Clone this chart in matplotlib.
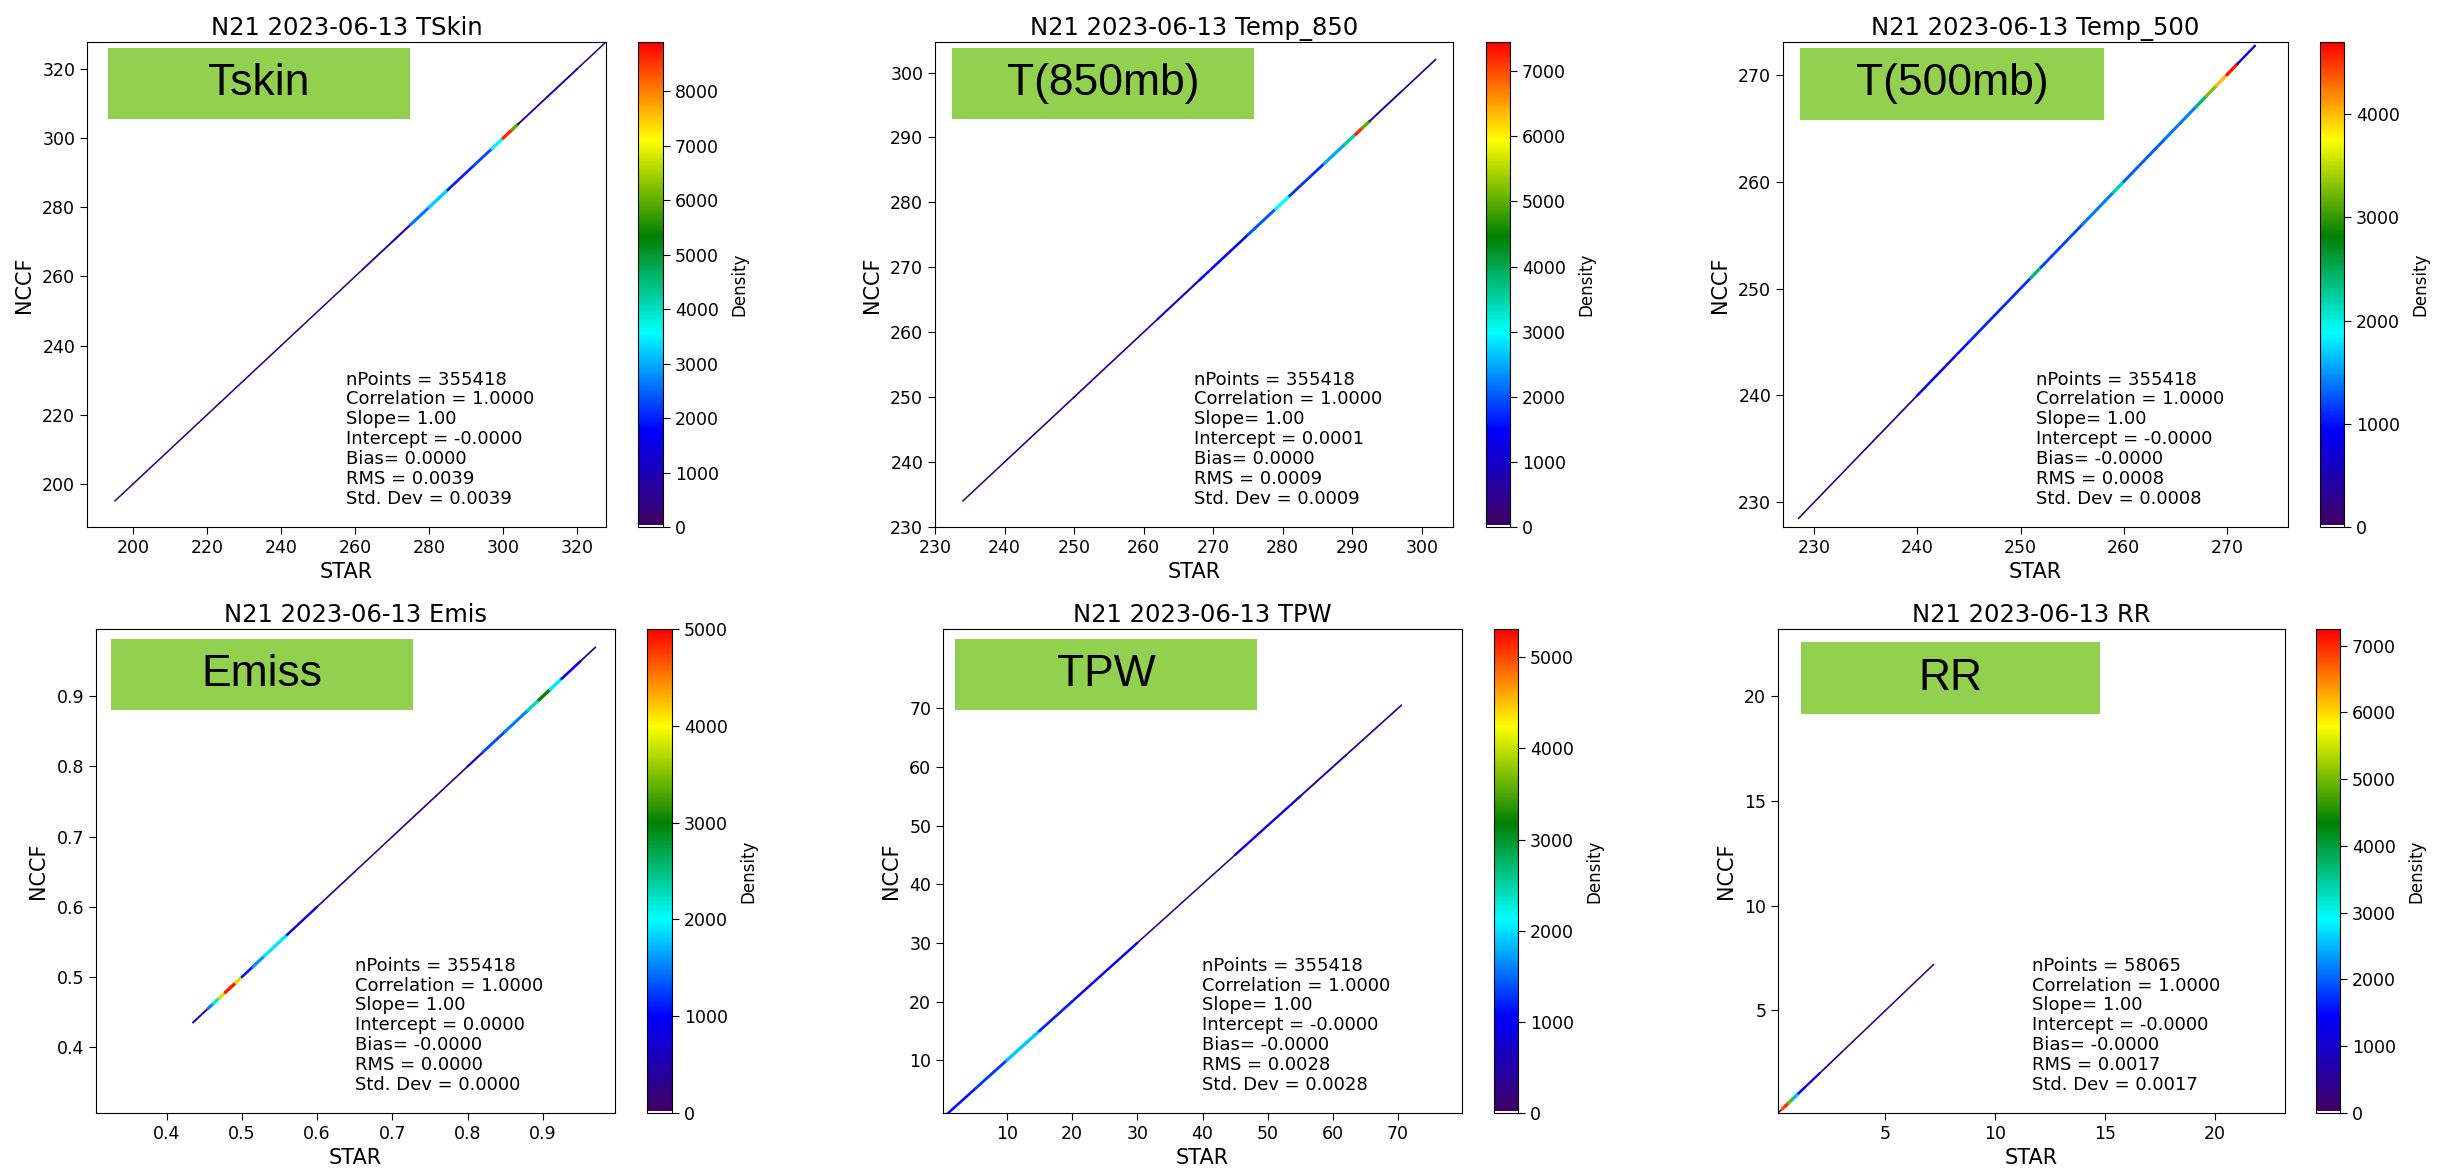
import numpy as np
import matplotlib
matplotlib.use("Agg")
import matplotlib.pyplot as plt
from matplotlib.colors import LinearSegmentedColormap, ListedColormap, Normalize
from matplotlib.collections import LineCollection
from matplotlib.patches import Rectangle

# ---------------- data ----------------
titles = ["N21 2023-06-13 TSkin", "N21 2023-06-13 Temp_850", "N21 2023-06-13 Temp_500",
          "N21 2023-06-13 Emis", "N21 2023-06-13 TPW", "N21 2023-06-13 RR"]
box_labels = ["Tskin", "T(850mb)", "T(500mb)", "Emiss", "TPW", "RR"]

tskin_star = [195.0, 197.0, 200.0, 220.0, 240.0, 262.0, 270.0, 275.0, 280.0, 285.0, 292.0, 297.0, 300.0, 302.5, 304.0, 312.0, 320.0, 327.5]
tskin_nccf = [195.0, 197.0, 200.0, 220.0, 240.0, 262.0, 270.0, 275.0, 280.0, 285.0, 292.0, 297.0, 300.0, 302.5, 304.0, 312.0, 320.0, 327.5]
tskin_dens = [100, 200, 250, 300, 250, 700, 1100, 2600, 3200, 2000, 2300, 3500, 8600, 6000, 700, 900, 300]

t850_star = [234.0, 240.0, 250.0, 262.0, 268.0, 275.0, 279.0, 281.0, 286.0, 289.0, 290.5, 291.5, 292.5, 297.0, 302.0]
t850_nccf = [234.0, 240.0, 250.0, 262.0, 268.0, 275.0, 279.0, 281.0, 286.0, 289.0, 290.5, 291.5, 292.5, 297.0, 302.0]
t850_dens = [200, 300, 400, 900, 1500, 2000, 3000, 1800, 2500, 3500, 7200, 5000, 700, 400]

t500_star = [228.5, 235.0, 240.0, 245.0, 251.0, 252.0, 256.0, 259.0, 260.0, 264.0, 267.0, 268.0, 269.0, 270.0, 271.0, 272.7]
t500_nccf = [228.5, 235.0, 240.0, 245.0, 251.0, 252.0, 256.0, 259.0, 260.0, 264.0, 267.0, 268.0, 269.0, 270.0, 271.0, 272.7]
t500_dens = [200, 300, 900, 1100, 2400, 1200, 1400, 2200, 1300, 1400, 2400, 3300, 4000, 4600, 800]

emis_star = [0.435, 0.455, 0.462, 0.470, 0.478, 0.492, 0.500, 0.515, 0.530, 0.560, 0.600, 0.650, 0.700, 0.800, 0.820, 0.850, 0.880, 0.895, 0.910, 0.925, 0.950, 0.970]
emis_nccf = [0.435, 0.455, 0.462, 0.470, 0.478, 0.492, 0.500, 0.515, 0.530, 0.560, 0.600, 0.650, 0.700, 0.800, 0.820, 0.850, 0.880, 0.895, 0.910, 0.925, 0.950, 0.970]
emis_dens = [500, 1500, 2200, 3800, 4900, 3800, 1100, 1600, 1900, 900, 250, 150, 250, 700, 1300, 1500, 2300, 3000, 1900, 1000, 300]

tpw_star = [0.3, 5.0, 10.0, 15.0, 20.0, 30.0, 35.0, 45.0, 55.0, 62.0, 70.5]
tpw_nccf = [0.3, 5.0, 10.0, 15.0, 20.0, 30.0, 35.0, 45.0, 55.0, 62.0, 70.5]
tpw_dens = [1100, 1300, 1900, 1200, 1000, 200, 150, 900, 500, 300]

rr_star = [0.15, 0.3, 0.45, 0.6, 0.75, 0.9, 1.05, 1.3, 2.0, 3.0, 5.0, 7.2]
rr_nccf = [0.15, 0.3, 0.45, 0.6, 0.75, 0.9, 1.05, 1.3, 2.0, 3.0, 5.0, 7.2]
rr_dens = [300, 6800, 7000, 5000, 3500, 2500, 1500, 1100, 400, 250, 200]

dens_max = [8900, 7450, 4700, 5000, 5310, 7250]

stats = [
    ["355418", "1.0000", "1.00", "-0.0000", "0.0000", "0.0039", "0.0039"],
    ["355418", "1.0000", "1.00", "0.0001", "0.0000", "0.0009", "0.0009"],
    ["355418", "1.0000", "1.00", "-0.0000", "-0.0000", "0.0008", "0.0008"],
    ["355418", "1.0000", "1.00", "0.0000", "-0.0000", "0.0000", "0.0000"],
    ["355418", "1.0000", "1.00", "-0.0000", "-0.0000", "0.0028", "0.0028"],
    ["58065", "1.0000", "1.00", "-0.0000", "-0.0000", "0.0017", "0.0017"],
]

series = [(tskin_star, tskin_nccf, tskin_dens), (t850_star, t850_nccf, t850_dens),
          (t500_star, t500_nccf, t500_dens), (emis_star, emis_nccf, emis_dens),
          (tpw_star, tpw_nccf, tpw_dens), (rr_star, rr_nccf, rr_dens)]

# ---------------- layout (pixels) ----------------
W, H = 2440, 1172
rows = [(42, 527), (629, 1113)]
axes_x = [(87, 606), (935, 1453), (1783, 2288), (96, 615), (943, 1462), (1778, 2285)]
cb_x = [(638, 663), (1486, 1510), (2320, 2344), (647, 672), (1494, 1518), (2316, 2340)]
boxes = [(108, 48, 410, 119), (952, 48, 1254, 119), (1800, 48, 2104, 120),
         (111, 639, 413, 710), (955, 639, 1257, 710), (1801, 642, 2100, 714)]
lims = [((187.5, 327.8), (187.5, 327.8)), ((230.0, 304.5), (230.1, 304.7)),
        ((227.0, 275.9), (227.7, 273.05)), ((0.306, 0.996), (0.306, 0.996)),
        ((0.2, 79.8), (1.0, 83.5)), ((0.11, 23.2), (0.11, 23.2))]
xticks = [np.arange(200, 321, 20), np.arange(230, 301, 10), np.arange(230, 271, 10),
          np.arange(0.4, 0.91, 0.1), np.arange(10, 71, 10), np.arange(5, 21, 5)]

base = LinearSegmentedColormap.from_list(
    "dens", [(0.0, "#40005e"), (0.2, "#0000ff"), (0.4, "#00ffff"), (0.6, "#008000"),
             (0.8, "#ffff00"), (1.0, "#ff0000")], N=256)
cols = base(np.linspace(0, 1, 256))
cols[0] = [1, 1, 1, 1]
cmap = ListedColormap(cols)

fig = plt.figure(figsize=(W / 100, H / 100), dpi=100)


def fr(x0, y0, x1, y1):
    return [x0 / W, 1 - y1 / H, (x1 - x0) / W, (y1 - y0) / H]


for i in range(6):
    r = rows[i // 3]
    ax = fig.add_axes(fr(axes_x[i][0], r[0], axes_x[i][1], r[1]))
    cax = fig.add_axes(fr(cb_x[i][0], r[0], cb_x[i][1], r[1]))
    sx, sy, d = series[i]
    pts = np.column_stack([sx, sy])
    segs = np.stack([pts[:-1], pts[1:]], axis=1)
    norm = Normalize(0, dens_max[i])
    darr = np.asarray(d, dtype=float)
    widths = 1.0 + 1.4 * np.clip(darr / dens_max[i] * 3, 0, 1)
    lc = LineCollection(segs, cmap=cmap, norm=norm, linewidths=widths, capstyle="round")
    lc.set_array(darr)
    ax.add_collection(lc)
    ax.set_xlim(*lims[i][0])
    ax.set_ylim(*lims[i][1])
    ax.set_xticks(xticks[i])
    ax.set_yticks(xticks[i])
    if i == 3:
        ax.set_xticklabels([f"{t:.1f}" for t in xticks[i]])
        ax.set_yticklabels([f"{t:.1f}" for t in xticks[i]])
    ax.tick_params(labelsize=12.5, length=5)
    ax.set_title(titles[i], fontsize=17.5, pad=5)
    ax.set_xlabel("STAR", fontsize=15, labelpad=4)
    ax.set_ylabel("NCCF", fontsize=15, labelpad=6)
    s = stats[i]
    txt = (f"nPoints = {s[0]}\nCorrelation = {s[1]}\nSlope= {s[2]}\nIntercept = {s[3]}\n"
           f"Bias= {s[4]}\nRMS = {s[5]}\nStd. Dev = {s[6]}")
    ax.text(0.5, 0.04, txt, transform=ax.transAxes, ha="left", va="bottom",
            fontsize=13, linespacing=1.13)
    cb = fig.colorbar(lc, cax=cax)
    cb.set_ticks(np.arange(0, dens_max[i] + 1, 1000))
    cb.ax.tick_params(labelsize=12.5, length=5)
    cb.set_label("Density", fontsize=12, labelpad=8)
    bx0, by0, bx1, by1 = boxes[i]
    fig.add_artist(Rectangle((bx0 / W, 1 - by1 / H), (bx1 - bx0) / W, (by1 - by0) / H,
                             transform=fig.transFigure, facecolor="#92d050", edgecolor="none",
                             zorder=5))
    fig.text((bx0 + bx1) / 2 / W, 1 - (by0 + by1) / 2 / H, box_labels[i],
             ha="center", va="center", fontsize=32, family="Liberation Sans", zorder=6)

fig.savefig("out.png", dpi=100)
